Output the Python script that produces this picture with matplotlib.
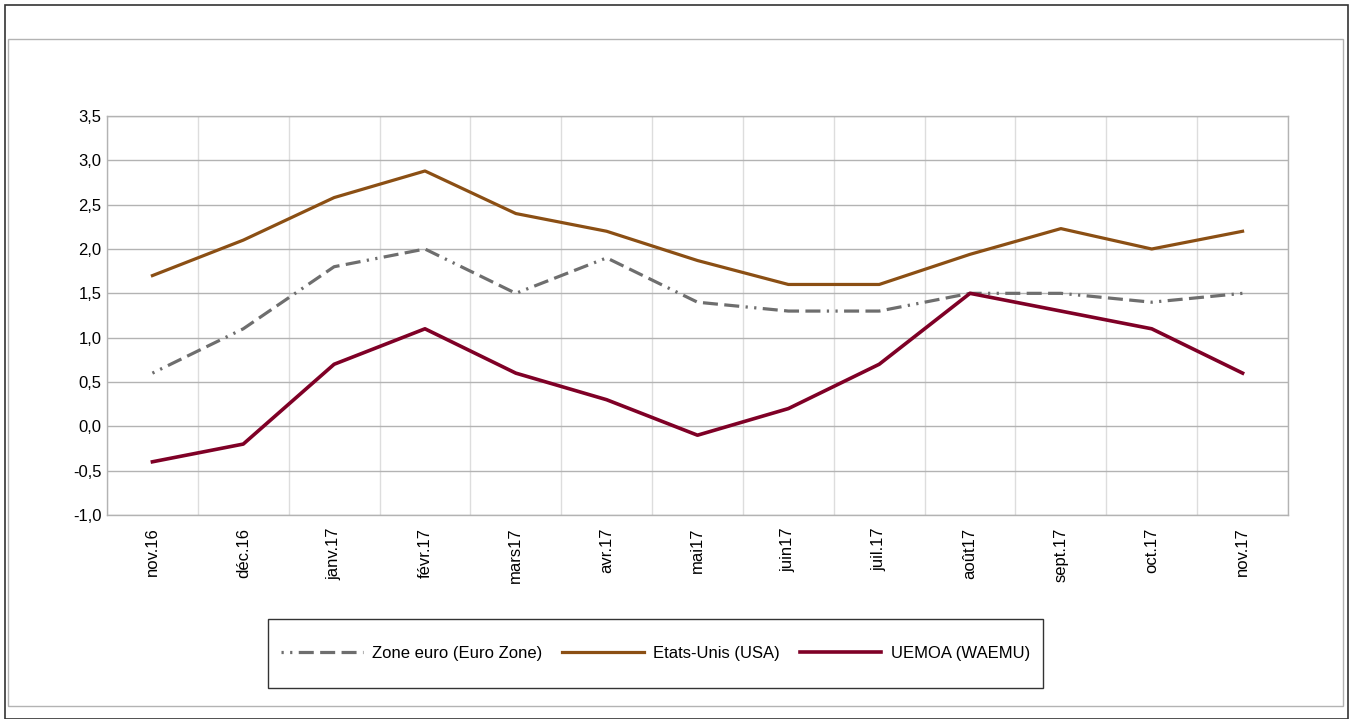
import matplotlib
matplotlib.use("Agg")
import matplotlib.pyplot as plt
from matplotlib.patches import Rectangle
import numpy as np

months = ["nov.16", "déc.16", "janv.17", "févr.17", "mars17", "avr.17", "mai17",
          "juin17", "juil.17", "août17", "sept.17", "oct.17", "nov.17"]
euro = [0.6, 1.1, 1.8, 2.0, 1.5, 1.9, 1.4, 1.3, 1.3, 1.5, 1.5, 1.4, 1.5]
usa = [1.7, 2.1, 2.58, 2.88, 2.4, 2.2, 1.87, 1.6, 1.6, 1.94, 2.23, 2.0, 2.2]
uemoa = [-0.4, -0.2, 0.7, 1.1, 0.6, 0.3, -0.1, 0.2, 0.7, 1.5, 1.3, 1.1, 0.6]
yticks = [-1.0, -0.5, 0.0, 0.5, 1.0, 1.5, 2.0, 2.5, 3.0, 3.5]
labels = ["Zone euro (Euro Zone)", "Etats-Unis (USA)", "UEMOA (WAEMU)"]

plt.rcParams['font.family'] = ['Liberation Sans', 'DejaVu Sans']
FS = 12

W, H = 1354, 719
fig = plt.figure(figsize=(W / 100, H / 100), dpi=100)

# outer frames
fig.patches.append(Rectangle((5 / W, 0), (1348 - 5) / W, 1 - 5 / H, transform=fig.transFigure,
                             fill=False, edgecolor='#333333', linewidth=1.2))
fig.patches.append(Rectangle((8 / W, 1 - 706 / H), (1343 - 8) / W, (706 - 39) / H, transform=fig.transFigure,
                             fill=False, edgecolor='#b3b3b3', linewidth=1.0))
# legend frame
fig.patches.append(Rectangle((268 / W, 1 - 688 / H), (1043 - 268) / W, (688 - 619) / H, transform=fig.transFigure,
                             fill=False, edgecolor='#333333', linewidth=1.0))

ax = fig.add_axes([107 / W, 1 - 515 / H, (1288 - 107) / W, (515 - 116) / H])
x = np.arange(len(months))

ax.plot(x, euro, color='#6e6e6e', linewidth=2.3, dashes=(0.7, 2, 0.7, 2, 4.7, 2, 4.7, 2, 4.7, 2), label=labels[0])
ax.plot(x, usa, color='#8b4f14', linewidth=2.3, label=labels[1])
ax.plot(x, uemoa, color='#7f0026', linewidth=2.6, label=labels[2])

ax.set_xlim(-0.5, len(months) - 0.5)
ax.set_ylim(-1.0, 3.5)
ax.set_yticks(yticks)
ax.set_yticklabels([f"{v:.1f}".replace('.', ',') for v in yticks], fontsize=FS)
ax.set_xticks(x)
ax.set_xticklabels(months, rotation=90, fontsize=FS, va='top', ha='center')
ax.set_xticks(np.arange(-0.5, len(months), 1.0), minor=True)
ax.tick_params(axis='x', which='major', length=0, pad=9)
ax.tick_params(axis='x', which='minor', length=0)
ax.tick_params(axis='y', length=0, pad=4)

ax.grid(axis='y', which='major', color='#b3b3b3', linewidth=1.0)
ax.grid(axis='x', which='minor', color='#dddddd', linewidth=1.0)
ax.set_axisbelow(True)
for s in ax.spines.values():
    s.set_color('#b3b3b3')
    s.set_linewidth(1.0)

leg = fig.legend(loc='center', bbox_to_anchor=(655.5 / W, 1 - 653.5 / H),
                 ncol=3, frameon=False, fontsize=FS,
                 handlelength=4.9, handletextpad=0.55, columnspacing=1.2,
                 borderpad=0, borderaxespad=0)

fig.savefig("out.png", dpi=100)
